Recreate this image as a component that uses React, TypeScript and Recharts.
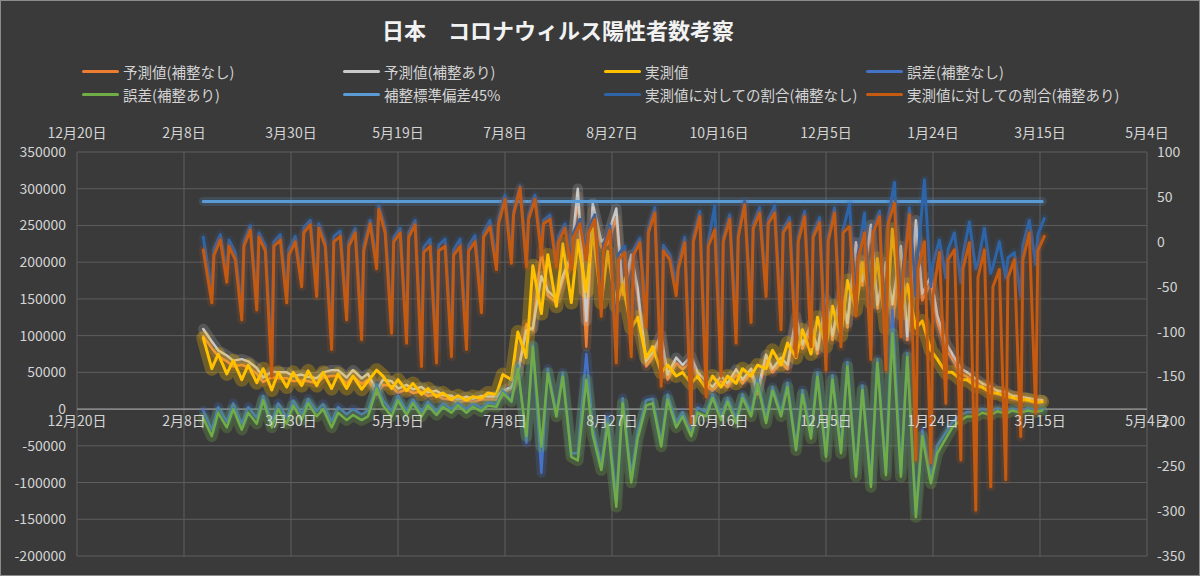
import { LineChart, Line, XAxis, YAxis, CartesianGrid, ReferenceLine } from 'recharts'

// days counted from 2021-12-20 (x axis origin), two readings per week (Thu / Mon)
const days = [
  59, 63, 66, 70, 73, 77, 80, 84, 87, 91, 94, 98, 101, 105, 108, 112, 115, 119, 122, 126,
  129, 133, 136, 140, 143, 147, 150, 154, 157, 161, 164, 168, 171, 175, 178, 182, 185, 189, 192, 196,
  199, 203, 206, 210, 213, 217, 220, 224, 227, 231, 234, 238, 241, 245, 248, 252, 255, 259, 262, 266,
  269, 273, 276, 280, 283, 287, 290, 294, 297, 301, 304, 308, 311, 315, 318, 322, 325, 329, 332, 336,
  339, 343, 346, 350, 353, 357, 360, 364, 367, 371, 374, 378, 381, 385, 388, 392, 395, 399, 402, 406,
  409, 413, 416, 420, 423, 427, 430, 434, 437, 441, 444, 448, 451,
]

// the ratio series are read three times a week (Mon / Tue / Fri)
const ratioDays = [
  59,
  63, 64, 67, 70, 71, 74, 77, 78, 81, 84, 85, 88, 91, 92, 95, 98, 99, 102,
  105, 106, 109, 112, 113, 116, 119, 120, 123, 126, 127, 130, 133, 134, 137, 140, 141, 144,
  147, 148, 151, 154, 155, 158, 161, 162, 165, 168, 169, 172, 175, 176, 179, 182, 183, 186,
  189, 190, 193, 196, 197, 200, 203, 204, 207, 210, 211, 214, 217, 218, 221, 224, 225, 228,
  231, 232, 235, 238, 239, 242, 245, 246, 249, 252, 253, 256, 259, 260, 263, 266, 267, 270,
  273, 274, 277, 280, 281, 284, 287, 288, 291, 294, 295, 298, 301, 302, 305, 308, 309, 312,
  315, 316, 319, 322, 323, 326, 329, 330, 333, 336, 337, 340, 343, 344, 347, 350, 351, 354,
  357, 358, 361, 364, 365, 368, 371, 372, 375, 378, 379, 382, 385, 386, 389, 392, 393, 396,
  399, 400, 403, 406, 407, 410, 413, 414, 417, 420, 421, 424, 427, 428, 431, 434, 435, 438,
  441, 442, 445, 448, 449, 452,
]

const xTicks = [0, 50, 100, 150, 200, 250, 300, 350, 400, 450, 500]
const xTickLabels = ['12月20日', '2月8日', '3月30日', '5月19日', '7月8日', '8月27日', '10月16日', '12月5日', '1月24日', '3月15日', '5月4日']
const leftTicks = [-200000, -150000, -100000, -50000, 0, 50000, 100000, 150000, 200000, 250000, 300000, 350000]
const rightTicks = [-350, -300, -250, -200, -150, -100, -50, 0, 50, 100]

// 予測値(補整なし)
const predNoAdj = [
  99000, 83000, 72000, 65000, 58000, 60000, 57000, 48000, 37000, 43000,
  42000, 42000, 38000, 39000, 38000, 35000, 43000, 45000, 45000, 35000,
  45000, 34000, 40000, 20000, 33000, 31000, 22000, 27000, 22000, 24000,
  18000, 20000, 14000, 13000, 9000, 12000, 10000, 13000, 13000, 13000,
  22000, 28000, 45000, 116000, 107000, 217000, 155000, 145000, 175000, 205000,
  290000, 85000, 270000, 220000, 225000, 260000, 155000, 200000, 155000, 58000,
  71000, 95000, 40000, 63000, 54000, 65000, 43000, 32000, 25000, 38000,
  30000, 47000, 35000, 49000, 20000, 67000, 50000, 64000, 54000, 120000,
  82000, 108000, 75000, 143000, 94000, 152000, 111000, 219000, 168000, 243000,
  137000, 192000, 110000, 214000, 94000, 250000, 148000, 172000, 118000, 82000,
  68000, 48000, 44000, 35000, 30000, 25000, 21000, 19000, 15000, 14000,
  12000, 10000, 10000,
]

// 予測値(補整あり)
const predAdj = [
  109000, 92000, 80000, 73000, 66000, 68000, 65000, 56000, 43000, 51000,
  50000, 50000, 45000, 47000, 44000, 42000, 50000, 53000, 53000, 43000,
  53000, 42000, 48000, 25000, 40000, 38000, 28000, 33000, 27000, 30000,
  23000, 25000, 19000, 18000, 13000, 17000, 14000, 18000, 17000, 17000,
  25000, 30000, 50000, 107000, 110000, 181000, 161000, 150000, 181000, 210000,
  300000, 120000, 280000, 228000, 235000, 273000, 162000, 210000, 165000, 65000,
  77000, 101000, 47000, 70000, 60000, 72000, 50000, 38000, 30000, 45000,
  35000, 54000, 40000, 55000, 25000, 74000, 55000, 70000, 60000, 126000,
  88000, 115000, 81000, 150000, 100000, 160000, 117000, 227000, 174000, 251000,
  142000, 200000, 142000, 222000, 99000, 257000, 157000, 181000, 128000, 90000,
  75000, 55000, 50000, 41000, 35000, 30000, 25000, 23000, 18000, 17000,
  15000, 13000, 12000,
]

// 実測値
const actual = [
  97000, 55000, 75000, 48000, 66000, 40000, 60000, 36000, 55000, 26000,
  50000, 30000, 50000, 32000, 52000, 32000, 50000, 28000, 48000, 28000,
  45000, 27000, 38000, 53000, 45000, 28000, 40000, 25000, 35000, 20000,
  28000, 17000, 22000, 13000, 18000, 12000, 17000, 15000, 22000, 20000,
  47000, 40000, 105000, 70000, 195000, 130000, 210000, 140000, 225000, 145000,
  230000, 160000, 245000, 145000, 215000, 140000, 170000, 110000, 125000, 70000,
  85000, 50000, 60000, 45000, 50000, 35000, 45000, 28000, 45000, 30000,
  45000, 35000, 55000, 45000, 60000, 55000, 80000, 60000, 90000, 70000,
  108000, 75000, 125000, 85000, 140000, 100000, 175000, 135000, 200000, 145000,
  205000, 110000, 245000, 130000, 170000, 110000, 120000, 80000, 68000, 50000,
  50000, 40000, 40000, 31000, 30000, 22000, 22000, 17000, 16000, 12000,
  13000, 9000, 10000,
]

// 誤差(補整なし)
const errNoAdj = [
  -2000, -28000, 3000, -17000, 8000, -20000, 3000, -12000, 18000, -17000,
  8000, -12000, 12000, -7000, 14000, -3000, 7000, -17000, 3000, -7000,
  0, -7000, -2000, 33000, 12000, -3000, 18000, -2000, 13000, -4000,
  10000, -3000, 8000, 0, 9000, 0, 7000, 2000, 9000, 7000,
  25000, 12000, 60000, -46000, 88000, -87000, 55000, -5000, 50000, -60000,
  -60000, 75000, -25000, -75000, -10000, -120000, 15000, -90000, -30000, 12000,
  14000, -45000, 20000, -18000, -4000, -30000, 2000, -4000, 20000, -8000,
  15000, -12000, 20000, -4000, 40000, -12000, 30000, -4000, 36000, -50000,
  26000, -33000, 50000, -58000, 46000, -52000, 64000, -84000, 32000, -98000,
  68000, -82000, 135000, -84000, 76000, -140000, -28000, -92000, -50000, -32000,
  -18000, -8000, -4000, -4000, 0, -3000, 1000, -2000, 1000, -2000,
  1000, -1000, 0,
]

// 誤差(補整あり)
const errAdj = [
  -12000, -37000, -5000, -25000, 0, -28000, -5000, -20000, 12000, -25000,
  0, -20000, 5000, -15000, 8000, -10000, 0, -25000, -5000, -15000,
  -8000, -15000, -10000, 28000, 5000, -10000, 12000, -8000, 8000, -10000,
  5000, -8000, 3000, -5000, 5000, -5000, 3000, -3000, 5000, 3000,
  22000, 10000, 55000, -37000, 85000, -51000, 49000, -10000, 44000, -65000,
  -70000, 40000, -35000, -83000, -20000, -133000, 8000, -100000, -40000, 5000,
  8000, -51000, 13000, -25000, -10000, -37000, -5000, -10000, 15000, -15000,
  10000, -19000, 15000, -10000, 35000, -19000, 25000, -10000, 30000, -56000,
  20000, -40000, 44000, -65000, 40000, -60000, 58000, -92000, 26000, -106000,
  63000, -90000, 103000, -92000, 71000, -147000, -37000, -101000, -60000, -40000,
  -25000, -15000, -10000, -10000, -5000, -8000, -3000, -6000, -2000, -5000,
  -2000, -4000, -2000,
]

// 補整標準偏差45% (right axis, %)
const STD_DEV_PCT = 45

// 実測値に対しての割合(補整なし) (right axis, %) — one value per ratioDays entry
const ratioNoAdj = [
  5,
  -55, -8, 8, -35, 2, -12, -75, 0, 18, -65, 10, -4, -130, 0, 8, -55, -8, 6,
  -40, 16, 24, -50, 20, 0, -105, 6, 12, -75, 0, 15, -95, -4, 24, -20, 40, 16,
  -90, 5, 15, -100, 10, 24, -125, -6, 3, -120, -4, 3, -115, -9, 3, -105, -4, 7,
  -65, 10, 24, -20, 26, 52, -15, 34, 62, -20, 30, 52, -5, 24, 30, -20, 6, 20,
  -20, 10, 25, -10, 16, 30, -65, -4, 18, -115, -14, -5, -110, -9, 4, -80, 15, 38,
  -140, -4, -14, -45, -24, 5, -180, 5, 34, -155, 0, 40, -130, 5, 30, -95, 10, 45,
  -75, 20, 38, -50, 25, 40, -85, 14, 27, -110, 5, 34, -100, 10, 27, -125, 5, 38,
  -100, 14, 42, -70, -14, 32, -115, 15, 34, -125, 26, 66, -90, -30, 38, -60, -14, 69,
  -50, -24, 2, -40, -9, 10, -45, -14, 22, -30, -24, 15, -35, -28, 0, -40, -18, -12,
  -61, -4, 24, -25, 8, 26,
]

// 実測値に対しての割合(補整あり) (right axis, %) — one value per ratioDays entry
const ratioAdj = [
  -9,
  -68, -15, 2, -45, -5, -20, -87, -5, 13, -76, 5, -10, -150, -5, 2, -68, -15, 0,
  -50, 10, 19, -61, 15, -5, -120, 0, 6, -87, -5, 10, -109, -10, 20, -30, 36, 10,
  -102, 0, 10, -113, 5, 19, -139, -12, -5, -135, -10, -5, -128, -15, -5, -120, -10, 0,
  -79, 5, 17, -31, 20, 47, -24, 30, 60, -28, 25, 47, -15, 20, 25, -28, 0, 15,
  -31, 5, 20, -20, 10, 25, -83, -10, 13, -135, -20, -12, -128, -15, -1, -95, 10, 32,
  -161, -10, -20, -60, -30, -1, -202, 0, 28, -173, -5, 13, -150, 0, 25, -113, 5, 41,
  -90, 15, 32, -61, 20, 32, -98, 10, 21, -128, 0, 28, -117, 5, 21, -143, 0, 32,
  -117, 10, 17, -83, -20, 10, -131, 10, 28, -143, 20, 43, -106, -40, 30, -243, -30, 0,
  -246, -60, -12, -180, -20, -9, -243, -30, -1, -299, -40, -9, -273, -50, -31, -265, -40, -20,
  -217, -20, 10, -191, -10, 6,
]

const rows = days.map((day, i) => ({
  day,
  predRaw: predNoAdj[i],
  predAdj: predAdj[i],
  actual: actual[i],
  errRaw: errNoAdj[i],
  errAdj: errAdj[i],
  sd: STD_DEV_PCT,
}))

const ratioRows = ratioDays.map((day, i) => ({
  day,
  ratioRaw: ratioNoAdj[i],
  ratioAdj: ratioAdj[i],
}))

const SERIES = [
  { key: 'predRaw',  name: '予測値(補整なし)', color: '#ED7D31', axis: 'left',  w: 2.5, glow: 0.18, halo: 7,  data: rows },
  { key: 'predAdj',  name: '予測値(補整あり)', color: '#C9C9C9', axis: 'left',  w: 2.5, glow: 0.2,  halo: 8,  data: rows },
  { key: 'actual',   name: '実測値',           color: '#FFC000', axis: 'left',  w: 3,   glow: 0.28, halo: 11, data: rows },
  { key: 'errRaw',   name: '誤差(補整なし)',   color: '#4472C4', axis: 'left',  w: 2.5, glow: 0.22, halo: 7,  data: rows },
  { key: 'errAdj',   name: '誤差(補整あり)',   color: '#70AD47', axis: 'left',  w: 2.5, glow: 0.28, halo: 9,  data: rows },
  { key: 'sd',       name: '補整標準偏差45%',  color: '#5B9BD5', axis: 'right', w: 3,   glow: 0.2,  halo: 6,  data: rows },
  { key: 'ratioRaw', name: '実測値に対しての割合(補整なし)', color: '#2E64A8', axis: 'right', w: 3, glow: 0.15, halo: 6, data: ratioRows },
  { key: 'ratioAdj', name: '実測値に対しての割合(補整あり)', color: '#C55A11', axis: 'right', w: 3, glow: 0.16, halo: 6, data: ratioRows },
]

const W = 1200
const H = 576
const PLOT = { left: 77, right: 1147, top: 152, bottom: 556 }
const LEFT_MIN = -200000
const LEFT_MAX = 350000
const ZERO_Y = PLOT.top + (PLOT.bottom - PLOT.top) * (LEFT_MAX / (LEFT_MAX - LEFT_MIN))

const BG = '#3a3a3a'
const TEXT = '#d4d4d4'
const GRID = '#5e5e5e'
const FONT = '"Noto Sans CJK JP", "Noto Sans", sans-serif'

const dayLabel = (v: number) => xTickLabels[xTicks.indexOf(v)] ?? ''

const TopTick = (p: any) => (
  <text x={p.x} y={PLOT.top - 14} textAnchor="middle" fill={TEXT} fontSize={14}>{dayLabel(p.payload.value)}</text>
)
const BottomTick = (p: any) => (
  <text x={p.x} y={ZERO_Y + 17} textAnchor="middle" fill={TEXT} fontSize={14}>{dayLabel(p.payload.value)}</text>
)
const LeftTick = (p: any) => (
  <text x={PLOT.left - 11} y={p.y + 5} textAnchor="end" fill={TEXT} fontSize={14}>{p.payload.value}</text>
)
const RightTick = (p: any) => (
  <text x={PLOT.right + 10} y={p.y + 5} textAnchor="start" fill={TEXT} fontSize={14}>{p.payload.value}</text>
)

const LEGEND_COLS = [82, 343, 604, 866]
const LEGEND_ROWS = [70, 93]

export default function App() {
  return (
    <div style={{ position: 'absolute', left: 0, top: 0, width: W, height: H, background: BG, fontFamily: FONT, boxSizing: 'border-box', border: '1px solid #8c8c8c', overflow: 'hidden' }}>
      <div style={{ position: 'absolute', left: 0, width: 1114, top: 13, textAlign: 'center', color: '#f2f2f2', fontSize: 22, fontWeight: 700, lineHeight: '30px' }}>
        日本　コロナウィルス陽性者数考察
      </div>

      {/* legend: 4 columns x 2 rows, same order as the series */}
      {SERIES.map((s, i) => (
        <div key={s.key} style={{ position: 'absolute', left: LEGEND_COLS[i % 4] - 1, top: LEGEND_ROWS[Math.floor(i / 4)] - 11, height: 22, display: 'flex', alignItems: 'center', whiteSpace: 'nowrap' }}>
          <span style={{ display: 'inline-block', width: 37, height: 3, background: s.color, borderRadius: 2, marginRight: 4 }} />
          <span style={{ color: TEXT, fontSize: 14.5 }}>{s.name}</span>
        </div>
      ))}

      <LineChart width={W} height={H} data={rows} margin={{ top: 122, right: 7, bottom: 0, left: 7 }} style={{ position: 'absolute', left: -1, top: -1 }}>
        <CartesianGrid xAxisId="bottom" yAxisId="left" stroke={GRID} strokeWidth={1} />
        <XAxis xAxisId="bottom" dataKey="day" type="number" domain={[0, 500]} ticks={xTicks} height={20}
          axisLine={false} tickLine={false} tick={BottomTick} interval={0} allowDuplicatedCategory={false} />
        <XAxis xAxisId="top" orientation="top" dataKey="day" type="number" domain={[0, 500]} ticks={xTicks} height={30}
          axisLine={false} tickLine={false} tick={TopTick} interval={0} />
        <YAxis yAxisId="left" domain={[LEFT_MIN, LEFT_MAX]} ticks={leftTicks} width={70}
          axisLine={false} tickLine={false} tick={LeftTick} interval={0} />
        <YAxis yAxisId="right" orientation="right" domain={[-350, 100]} ticks={rightTicks} width={46}
          axisLine={false} tickLine={false} tick={RightTick} interval={0} />
        <ReferenceLine xAxisId="bottom" yAxisId="left" y={0} stroke="#9a9a9a" strokeWidth={1.2} />

        {SERIES.map(s => [
          <Line key={s.key + '-glow'} data={s.data} xAxisId="bottom" yAxisId={s.axis} dataKey={s.key} type="linear"
            stroke={s.color} strokeWidth={s.w + s.halo} strokeOpacity={s.glow} strokeLinejoin="round" strokeLinecap="round"
            dot={false} activeDot={false} legendType="none" isAnimationActive={false} />,
          <Line key={s.key} data={s.data} xAxisId="bottom" yAxisId={s.axis} dataKey={s.key} name={s.name} type="linear"
            stroke={s.color} strokeWidth={s.w} strokeLinejoin="round" strokeLinecap="round"
            dot={false} activeDot={false} isAnimationActive={false} />,
        ])}
      </LineChart>
    </div>
  )
}
